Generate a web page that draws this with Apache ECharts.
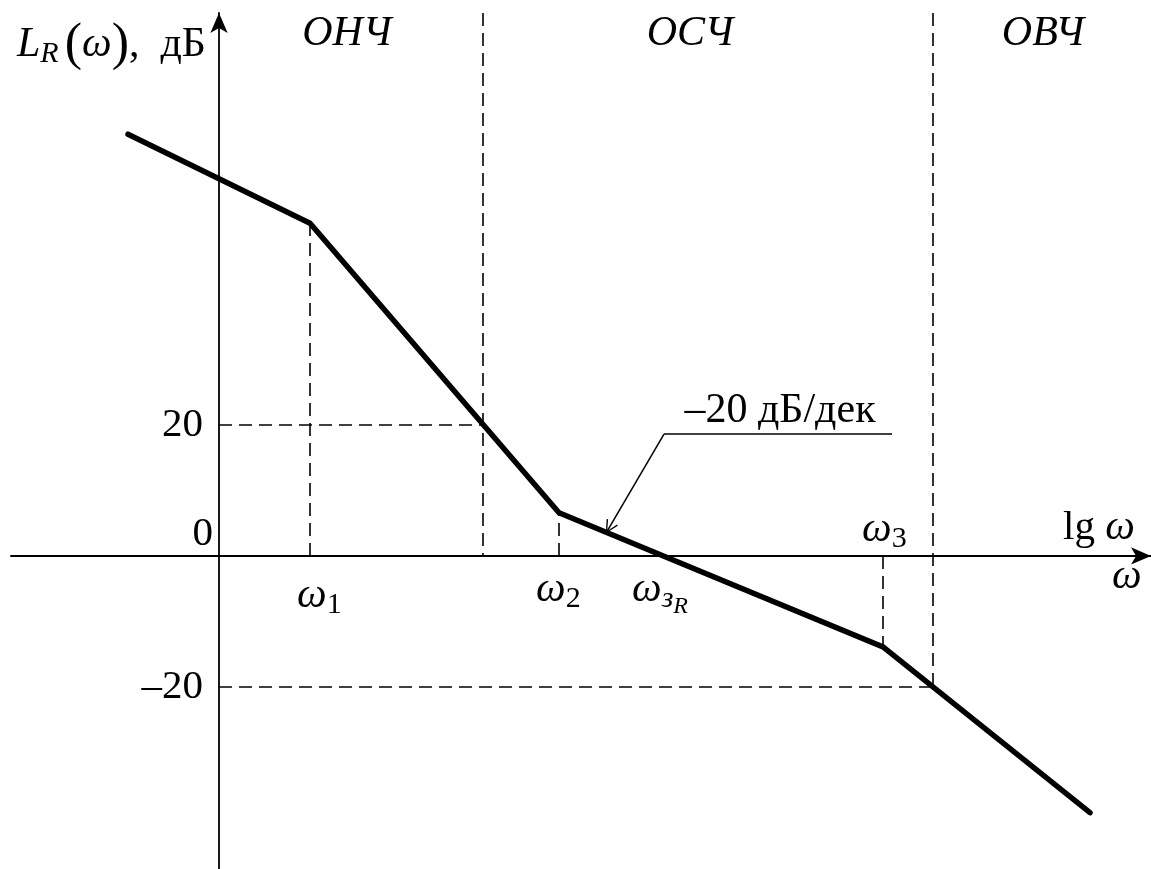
<!DOCTYPE html>
<html>
<head>
<meta charset="utf-8">
<style>
  html, body { margin: 0; padding: 0; background: #fff; }
  #chart { width: 1151px; height: 869px; }
</style>
<script src="https://cdn.jsdelivr.net/npm/echarts@6/dist/echarts.min.js"></script>
</head>
<body>
<div id="chart"></div>
<script>
// asymptotic LAFC L_R(w): x in lg w (arbitrary units, y axis at 0), y in dB
const lineX = [-0.91, 0.91, 3.40, 6.64, 8.71];
const lineY = [64.4, 50.8, 6.6, -13.9, -39.2];
const breakNames = ['1', '2', '3'];       // w1, w2, w3 -> lineX[1..3]
const crossX = 4.41;                       // w_зR, crossing of 0 dB
const bandX = [2.64, 7.14];                // borders ОНЧ | ОСЧ | ОВЧ
const bandY = [20, -20];                   // levels where borders hit the curve
const bandBottom = [0, -20];
const bandNames = ['ОНЧ', 'ОСЧ', 'ОВЧ'];
const yTicks = [-20, 0, 20];
const leaderX = [6.73, 4.45, 3.87];
const leaderY = [18.6, 18.6, 3.5];
const slopeText = '–20 дБ/дек';

const X_MIN = -2.08, X_MAX = 9.32, Y_MIN = -47.8, Y_MAX = 82.9;
const FONT = '"Liberation Serif", "Times New Roman", serif';

const chart = echarts.init(document.getElementById('chart'));

const dashed = [];
for (let i = 1; i <= 3; i++) {
  dashed.push([{ coord: [lineX[i], 0] }, { coord: [lineX[i], lineY[i]] }]);
}
for (let k = 0; k < bandX.length; k++) {
  dashed.push([{ coord: [bandX[k], Y_MAX] }, { coord: [bandX[k], bandBottom[k]] }]);
  dashed.push([{ coord: [0, bandY[k]] }, { coord: [bandX[k], bandY[k]] }]);
}

// open arrow head, tip at the centre of the symbol box
const openArrow = 'path://M6,12 L12,24 L10.8,24.6 L6,14.6 L1.2,24.6 L0,24 Z M6,0 L6.02,0 L6,0.02 Z';

chart.setOption({
  animation: false,
  backgroundColor: '#fff',
  grid: { left: 11, right: 0, top: 13, bottom: 0, containLabel: false, outerBoundsMode: 'none' },
  xAxis: {
    type: 'value',
    min: X_MIN,
    max: X_MAX,
    axisLine: {
      onZero: true,
      symbol: ['none', 'arrow'],
      symbolSize: [13, 20],
      lineStyle: { color: '#000', width: 1.8 }
    },
    axisTick: { show: false },
    axisLabel: { show: false },
    splitLine: { show: false }
  },
  yAxis: {
    type: 'value',
    min: Y_MIN,
    max: Y_MAX,
    axisLine: {
      onZero: true,
      symbol: ['none', 'arrow'],
      symbolSize: [13, 20],
      lineStyle: { color: '#000', width: 1.8 }
    },
    axisTick: { show: false },
    axisLabel: { show: false },
    splitLine: { show: false }
  },
  series: [
    {
      type: 'line',
      data: lineX.map((x, i) => [x, lineY[i]]),
      symbol: 'none',
      lineStyle: { color: '#000', width: 5.5, cap: 'round', join: 'miter' },
      z: 5,
      markLine: {
        silent: true,
        symbol: ['none', 'none'],
        label: { show: false },
        lineStyle: { color: '#000', width: 1.6, type: [13, 7] },
        data: dashed
      }
    },
    {
      type: 'line',
      data: leaderX.slice(0, 2).map((x, i) => [x, leaderY[i]]),
      symbol: 'none',
      lineStyle: { color: '#000', width: 1.5 },
      markLine: {
        silent: true,
        symbol: ['none', openArrow],
        symbolSize: [13, 26],
        label: { show: false },
        lineStyle: { color: '#000', width: 1.5, type: 'solid' },
        data: [[{ coord: [leaderX[1], leaderY[1]] }, { coord: [leaderX[2], leaderY[2]] }]]
      }
    }
  ]
});

const px = (x, y) => chart.convertToPixel({ gridIndex: 0 }, [x, y]);

const omega = { fontFamily: FONT, fontSize: 42, fontStyle: 'italic', fill: '#000' };
const sub = { fontFamily: FONT, fontSize: 30, fill: '#000', padding: [18, 0, 0, 0] };
const subI = Object.assign({}, sub, { fontStyle: 'italic' });
const subSub = { fontFamily: FONT, fontSize: 24, fontStyle: 'italic', fill: '#000', padding: [34, 0, 0, 0] };

function txt(x, y, text, align, rich, extra) {
  return {
    type: 'text',
    z: 10,
    style: Object.assign({
      x: x, y: y, text: text,
      align: align, verticalAlign: 'middle',
      fill: '#000',
      font: '41px ' + FONT,
      rich: rich || {}
    }, extra || {})
  };
}

const p0 = px(0, 0);
const graphics = [];

// y tick labels: left of the axis, the zero one lifted above the x axis
yTicks.forEach((v) => {
  const p = px(0, v);
  const label = v < 0 ? '–' + Math.abs(v) : String(v);
  if (v === 0) graphics.push(txt(p[0] - 6, p[1] - 22, label, 'right'));
  else graphics.push(txt(p[0] - 16, p[1], label, 'right'));
});

// w1, w2, w3 under / over the axis at the corner frequencies
const breakOffsets = [[-13, 40], [-23, 34], [-21, -26]];
breakNames.forEach((n, i) => {
  const p = px(lineX[i + 1], 0);
  graphics.push(txt(p[0] + breakOffsets[i][0], p0[1] + breakOffsets[i][1],
    '{w|ω}{s|' + n + '}', 'left', { w: omega, s: sub }));
});
const pc = px(crossX, 0);
graphics.push(txt(pc[0] - 28, p0[1] + 34, '{w|ω}{s|з}{r|R}', 'left',
  { w: omega, s: subI, r: subSub }));

// axis names
graphics.push(txt(1063, p0[1] - 28, '{t|lg }{w|ω}', 'left',
  { t: { fontFamily: FONT, fontSize: 41, fill: '#000' }, w: omega }));
graphics.push(txt(1112, p0[1] + 21, '{w|ω}', 'left', { w: omega }));
graphics.push(txt(17, 45, '{L|L}{s|R}{p|(}{w|ω}{p|)}{t|,  дБ}', 'left', {
  L: omega,
  s: { fontFamily: FONT, fontSize: 30, fontStyle: 'italic', fill: '#000', padding: [18, 6, 0, 0] },
  p: { fontFamily: FONT, fontSize: 52, fill: '#000' },
  w: omega,
  t: { fontFamily: FONT, fontSize: 42, fill: '#000' }
}));

// frequency band names
const bandCenters = [347, 690, 1043];
bandNames.forEach((n, i) => {
  graphics.push(txt(bandCenters[i], 34, n, 'center', null,
    { font: 'italic 42px ' + FONT }));
});

// slope annotation above the leader
const pl0 = px(leaderX[0], leaderY[0]);
const pl1 = px(leaderX[1], leaderY[1]);
graphics.push(txt((pl0[0] + pl1[0]) / 2 + 2, pl0[1] - 23, slopeText, 'center', null,
  { font: '42px ' + FONT }));

chart.setOption({ graphic: graphics });

window.addEventListener('resize', () => chart.resize());
</script>
</body>
</html>
